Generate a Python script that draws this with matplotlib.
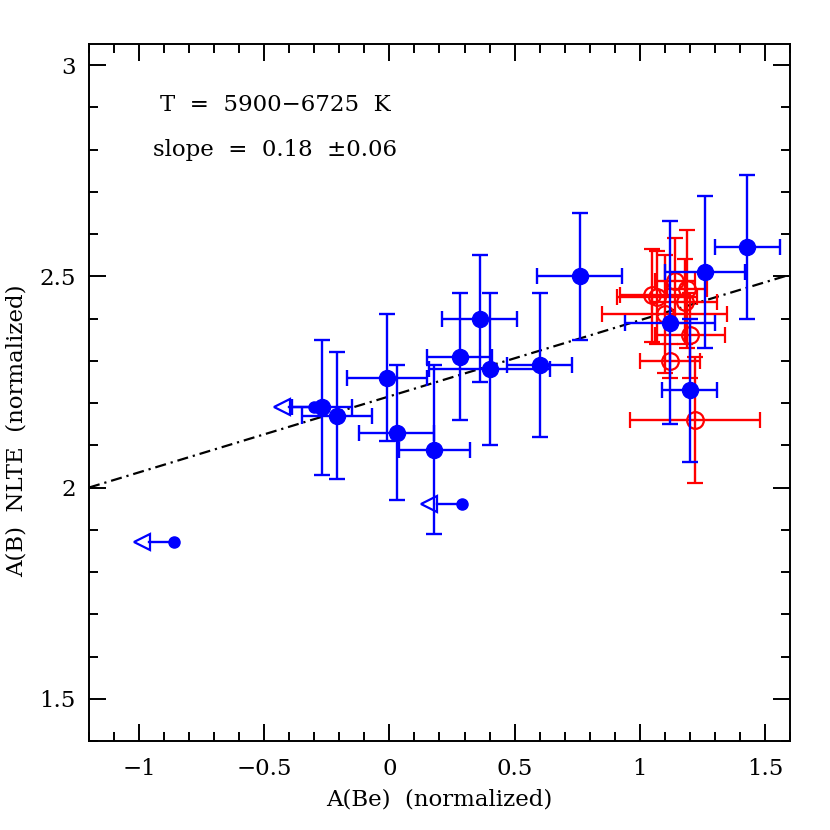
import numpy as np
import matplotlib
matplotlib.use("Agg")
import matplotlib.pyplot as plt
import matplotlib.ticker as tck

plt.rcParams['font.family'] = ['DejaVu Serif']
plt.rcParams['mathtext.fontset'] = 'dejavuserif'

# blue: filled points with error bars
blue_x = [1.43, 1.26, 1.12, 1.20, 0.76, 0.36, 0.28, 0.40, 0.60, -0.01, 0.03, 0.18, -0.27, -0.21]
blue_y = [2.57, 2.51, 2.39, 2.23, 2.50, 2.40, 2.31, 2.28, 2.29, 2.26, 2.13, 2.09, 2.19, 2.17]
blue_xerr = [0.13, 0.16, 0.18, 0.11, 0.17, 0.15, 0.13, 0.24, 0.13, 0.16, 0.15, 0.14, 0.12, 0.14]
blue_yerr = [0.17, 0.18, 0.24, 0.17, 0.15, 0.15, 0.15, 0.18, 0.17, 0.15, 0.16, 0.20, 0.16, 0.15]

# blue: upper limits in A(Be)
ul_x = [-0.30, 0.29, -0.86]
ul_y = [2.19, 1.96, 1.87]

# red: open circles
red_x = [1.05, 1.07, 1.14, 1.19, 1.18, 1.10, 1.20, 1.12, 1.22]
red_y = [2.455, 2.45, 2.49, 2.47, 2.44, 2.41, 2.36, 2.30, 2.16]
red_xerr = [0.13, 0.16, 0.08, 0.08, 0.13, 0.25, 0.14, 0.12, 0.26]
red_yerr = [0.11, 0.11, 0.10, 0.14, 0.10, 0.14, 0.10, 0.04, 0.15]

# linear fit
fit_slope = 0.18
fit_intercept = 2.216

ARROW_LEN = 0.16   # data units in x
HEAD_LEN = 0.06

fig = plt.figure(figsize=(8.3, 8.3), dpi=100)
ax = fig.add_axes([0.1072, 0.1072, 0.8446, 0.8398])

# fit line
xx = np.array([-1.2, 1.6])
ax.plot(xx, fit_intercept + fit_slope * xx, color='black', lw=1.6,
        linestyle=(0, (5, 2.2, 1, 2.2)), zorder=1)

# red open circles
ax.errorbar(red_x, red_y, xerr=red_xerr, yerr=red_yerr, fmt='o', color='red',
            mfc='none', mec='red', ms=12, mew=1.6, elinewidth=1.7,
            capsize=6, capthick=1.7, zorder=2)

# blue filled circles
ax.errorbar(blue_x, blue_y, xerr=blue_xerr, yerr=blue_yerr, fmt='o', color='blue',
            ms=11.5, elinewidth=1.7, capsize=6, capthick=1.7, zorder=3)

# upper limits: small dot, line, open triangle head
for x, y in zip(ul_x, ul_y):
    base = x - ARROW_LEN + HEAD_LEN
    ax.plot([x, base], [y, y], color='blue', lw=1.7, zorder=3)
    ax.plot(x - ARROW_LEN + HEAD_LEN / 2, y, marker='<', ms=11, mfc='none',
            mec='blue', mew=1.6, zorder=3)
    ax.plot(x, y, 'o', color='blue', ms=8, zorder=3)

ax.set_xlim(-1.2, 1.6)
ax.set_ylim(1.4, 3.05)

ax.xaxis.set_major_locator(tck.MultipleLocator(0.5))
ax.xaxis.set_minor_locator(tck.MultipleLocator(0.1))
ax.yaxis.set_major_locator(tck.MultipleLocator(0.5))
ax.yaxis.set_minor_locator(tck.MultipleLocator(0.1))
ax.xaxis.set_major_formatter(tck.FuncFormatter(lambda v, p: f'{v:g}'.replace('-', '\u2212')))
ax.yaxis.set_major_formatter(tck.FuncFormatter(lambda v, p: f'{v:g}'))

ax.tick_params(which='both', direction='in', top=True, right=True, width=1.4, labelsize=16.5)
ax.tick_params(which='major', length=12)
ax.tick_params(which='minor', length=6.5)
ax.tick_params(axis='x', pad=12)
ax.tick_params(axis='y', pad=9.5)
for s in ax.spines.values():
    s.set_linewidth(1.4)

ax.set_xlabel('A(Be)  (normalized)', fontsize=16.5, va='top')
ax.set_ylabel('A(B)  NLTE  (normalized)', fontsize=16.5)
ax.xaxis.set_label_coords(0.5, -0.068)
ax.yaxis.set_label_coords(-0.088, 0.445)

ax.text(-0.455, 2.905, 'T  =  5900\u22126725  K', fontsize=16.5, ha='center', va='center')
ax.text(-0.455, 2.80, 'slope  =  0.18  \u00b10.06', fontsize=16.5, ha='center', va='center')

fig.savefig('out.png', dpi=100)
